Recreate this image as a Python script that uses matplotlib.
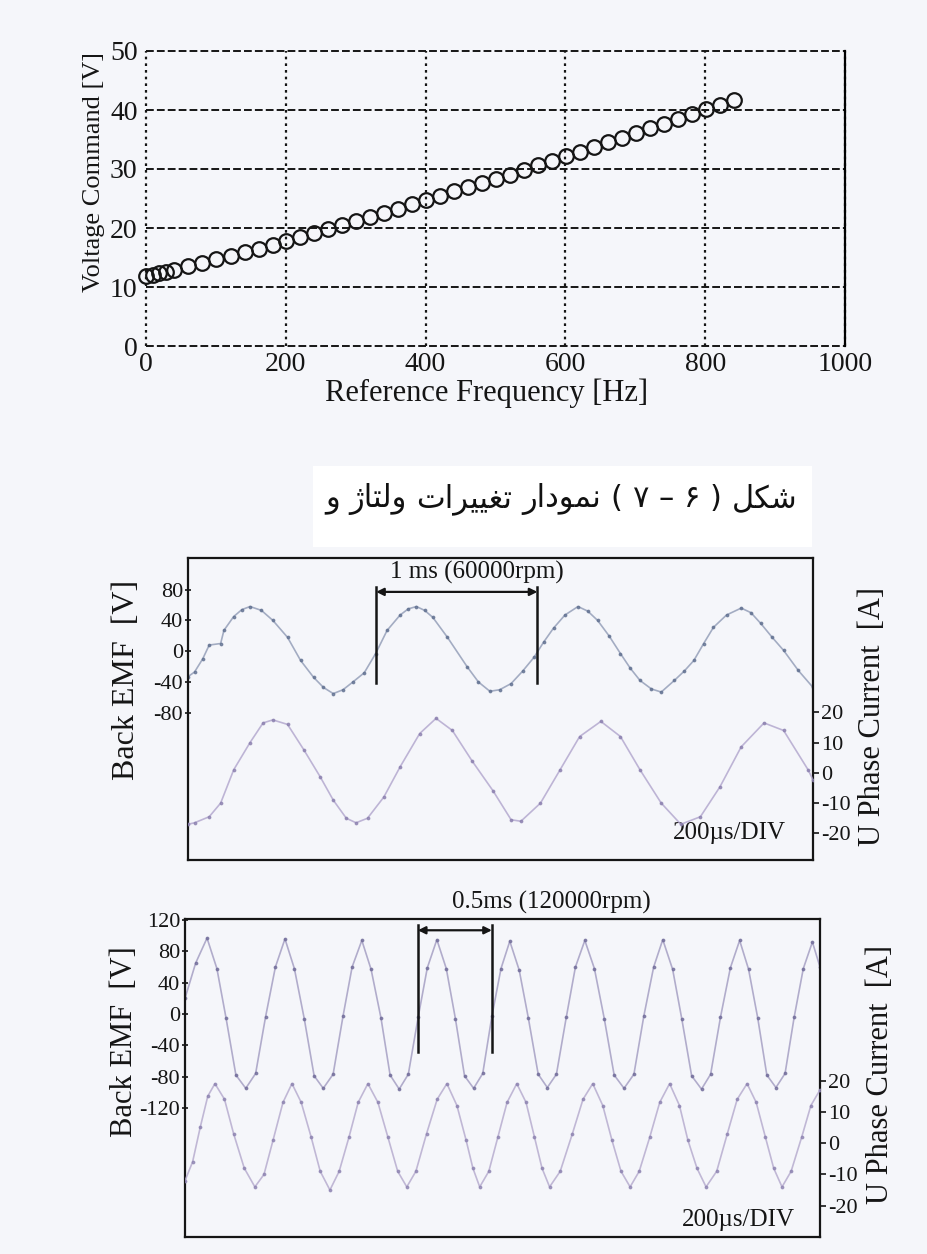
import numpy as np
import matplotlib
matplotlib.use("Agg")
import matplotlib.pyplot as plt
from matplotlib.patches import Rectangle

W, H = 927, 1254

# ---- top chart: voltage command vs reference frequency ----
freq_hz = [0, 10, 19, 29, 40, 60, 80, 100, 121, 141, 161, 181, 201, 221, 241,
           261, 281, 301, 321, 341, 361, 381, 401, 421, 441, 461, 481, 501, 521,
           541, 561, 581, 601, 621, 641, 661, 681, 701, 721, 741, 761, 781, 801,
           821, 841]
volt_cmd = [11.8, 12.1, 12.4, 12.6, 12.9, 13.5, 14.1, 14.7, 15.3, 15.9, 16.5,
            17.1, 17.8, 18.4, 19.1, 19.8, 20.5, 21.2, 21.9, 22.6, 23.3, 24.0,
            24.8, 25.5, 26.2, 26.9, 27.6, 28.3, 29.0, 29.8, 30.6, 31.4, 32.2,
            32.9, 33.7, 34.5, 35.3, 36.1, 36.9, 37.7, 38.5, 39.3, 40.1, 40.9, 41.7]
x_ticks = [0, 200, 400, 600, 800, 1000]
y_ticks = [0, 10, 20, 30, 40, 50]

# ---- middle scope, 60000 rpm (time in ms) ----
mid_t_emf = [0.00, 0.04, 0.09, 0.13, 0.20, 0.22, 0.28, 0.33, 0.38, 0.45, 0.52,
             0.61, 0.69, 0.77, 0.83, 0.89, 0.95, 1.01, 1.08, 1.15, 1.22, 1.30,
             1.35, 1.40, 1.45, 1.50, 1.59, 1.71, 1.78, 1.85, 1.91, 1.98, 2.05,
             2.12, 2.18, 2.24, 2.31, 2.39, 2.45, 2.51, 2.58, 2.65, 2.71, 2.77,
             2.84, 2.90, 2.98, 3.04, 3.10, 3.16, 3.22, 3.30, 3.39, 3.45, 3.51,
             3.58, 3.65, 3.74, 3.83]
mid_emf = [-33, -27, -10, 8, 10, 27, 45, 54, 58, 53, 40, 18, -12, -34, -47, -55,
           -50, -40, -28, -3, 27, 47, 55, 58, 53, 44, 18, -20, -40, -52, -50, -42,
           -26, -8, 12, 30, 47, 58, 52, 40, 20, -3, -22, -38, -49, -53, -38, -26,
           -12, 10, 31, 47, 56, 50, 36, 18, 1, -25, -47]
mid_t_cur = [0.00, 0.04, 0.13, 0.20, 0.28, 0.38, 0.46, 0.52, 0.61, 0.71, 0.81,
             0.89, 0.97, 1.03, 1.10, 1.20, 1.30, 1.42, 1.52, 1.62, 1.74, 1.87,
             1.98, 2.04, 2.16, 2.28, 2.40, 2.53, 2.65, 2.77, 2.90, 3.02, 3.14,
             3.26, 3.39, 3.53, 3.65, 3.80, 3.83]
mid_cur = [-17, -16.5, -14.5, -10, 1, 10, 16.5, 17.5, 16, 7.6, -1.3, -9, -15,
           -16.5, -15, -8, 2, 13, 18, 14, 4, -6, -15.5, -16, -10, 1, 12, 17, 12,
           1, -10, -17, -14.5, -4.6, 8.6, 16.5, 14, 1, -2.3]
mid_mark_t = [1.153, 2.141]

# ---- bottom scope, 120000 rpm (time in ms) ----
bot_t_emf = [0.00, 0.07, 0.145, 0.21, 0.27, 0.335, 0.40, 0.465, 0.53, 0.595,
             0.658, 0.72, 0.785, 0.85, 0.91, 0.975, 1.04, 1.10, 1.164, 1.225,
             1.29, 1.35, 1.41, 1.47, 1.535, 1.595, 1.658, 1.72, 1.78, 1.84, 1.90,
             1.96, 2.02, 2.08, 2.138, 2.20, 2.26, 2.325, 2.385, 2.445, 2.51, 2.57,
             2.632, 2.695, 2.76, 2.825, 2.89, 2.955, 3.02, 3.085, 3.145, 3.21,
             3.27, 3.335, 3.40, 3.46, 3.525, 3.59, 3.651, 3.71, 3.77, 3.83, 3.89,
             3.95, 4.01, 4.07, 4.13, 4.18]
bot_emf = [20, 65, 97, 58, -5, -78, -95, -76, -4, 60, 96, 58, -6, -79, -95, -77,
           -3, 60, 94, 57, -5, -78, -96, -77, -4, 59, 95, 58, -6, -79, -95, -76,
           -3, 58, 93, 56, -5, -77, -94, -77, -4, 60, 94, 58, -6, -78, -95, -77,
           -3, 60, 95, 57, -6, -79, -96, -77, -4, 59, 94, 57, -5, -78, -94, -76,
           -4, 58, 92, 60]
bot_t_cur = [0.00, 0.05, 0.10, 0.15, 0.197, 0.26, 0.32, 0.39, 0.46, 0.52, 0.58,
             0.645, 0.704, 0.765, 0.83, 0.89, 0.954, 1.015, 1.08, 1.14, 1.204,
             1.27, 1.335, 1.40, 1.46, 1.52, 1.59, 1.66, 1.724, 1.79, 1.85, 1.895,
             1.94, 2.00, 2.06, 2.12, 2.184, 2.245, 2.30, 2.35, 2.40, 2.47, 2.55,
             2.62, 2.684, 2.75, 2.81, 2.87, 2.93, 2.99, 3.06, 3.125, 3.19, 3.255,
             3.31, 3.37, 3.43, 3.50, 3.57, 3.635, 3.70, 3.76, 3.82, 3.875, 3.93,
             3.99, 4.06, 4.12, 4.18]
bot_cur = [-12, -6, 5, 15, 19, 14, 3, -8, -14, -10, 1, 13, 19, 13, 2, -9, -15,
           -9, 2, 13, 19, 13, 2, -9, -14, -9, 3, 14, 19, 12, 1, -8, -14, -9, 2,
           13, 19, 13, 2, -8, -14, -9, 3, 14, 19, 12, 1, -9, -14, -9, 2, 13, 19,
           12, 1, -8, -14, -9, 3, 14, 19, 13, 2, -8, -14, -9, 2, 12, 17]
bot_mark_t = [1.533, 2.02]

caption = 'شکل ( ۶ – ۷ ) نمودار تغییرات ولتاژ و'

# presentation forms: (isolated, final, initial, medial)
FORMS = {
    'ش': ('\uFEB5', '\uFEB6', '\uFEB7', '\uFEB8'),
    'ک': ('\uFB8E', '\uFB8F', '\uFB90', '\uFB91'),
    'ل': ('\uFEDD', '\uFEDE', '\uFEDF', '\uFEE0'),
    'ن': ('\uFEE5', '\uFEE6', '\uFEE7', '\uFEE8'),
    'م': ('\uFEE1', '\uFEE2', '\uFEE3', '\uFEE4'),
    'ت': ('\uFE95', '\uFE96', '\uFE97', '\uFE98'),
    'غ': ('\uFECD', '\uFECE', '\uFECF', '\uFED0'),
    'ی': ('\uFBFC', '\uFBFD', '\uFBFE', '\uFBFF'),
    'و': ('\uFEED', '\uFEEE'),
    'د': ('\uFEA9', '\uFEAA'),
    'ا': ('\uFE8D', '\uFE8E'),
    'ر': ('\uFEAD', '\uFEAE'),
    'ژ': ('\uFB8A', '\uFB8B'),
}
MIRROR = {'(': ')', ')': '('}


def shape_word(w):
    # contextual forms, still in logical order
    out = []
    for i, ch in enumerate(w):
        if ch not in FORMS:
            out.append(MIRROR.get(ch, ch))
            continue
        prev = w[i - 1] if i > 0 else None
        nxt = w[i + 1] if i + 1 < len(w) else None
        j_prev = prev in FORMS and len(FORMS[prev]) == 4
        j_next = nxt in FORMS and len(FORMS[ch]) == 4
        f = FORMS[ch]
        if j_prev and j_next:
            out.append(f[3])
        elif j_prev:
            out.append(f[1])
        elif j_next:
            out.append(f[2])
        else:
            out.append(f[0])
    return ''.join(out)


def renderer_reverses_rtl():
    # draw an arabic glyph followed by underscores and see which side it lands on
    f = plt.figure(figsize=(3, 1), dpi=100)
    f.text(0.05, 0.5, '\uFEB5____', family=['DejaVu Sans'], fontsize=30,
           va='center')
    f.canvas.draw()
    ink = 255.0 - np.asarray(f.canvas.buffer_rgba())[:, :, 0].astype(float)
    plt.close(f)
    cols = np.arange(ink.shape[1])
    top = ink[: ink.shape[0] * 2 // 5].sum(axis=0)
    allc = ink.sum(axis=0)
    if top.sum() == 0 or allc.sum() == 0:
        return False
    return (top * cols).sum() / top.sum() > (allc * cols).sum() / allc.sum()


def rect(l, t, r, b):
    return [l / W, 1 - b / H, (r - l) / W, (b - t) / H]


rev = renderer_reverses_rtl()

plt.rcParams['font.family'] = 'Liberation Serif'
BG = '#f5f6fa'
INK = '#151515'

fig = plt.figure(figsize=(W / 100, H / 100), dpi=100, facecolor=BG)

# ---------- top chart ----------
ax = fig.add_axes(rect(146, 51, 845, 346))
ax.set_facecolor(BG)
ax.plot(freq_hz, volt_cmd, ls='none', marker='o', ms=10.5, mfc='none',
        mec=INK, mew=1.6, clip_on=False, zorder=3)
ax.set_xlim(0, 1000)
ax.set_ylim(0, 50)
ax.set_xticks(x_ticks)
ax.set_yticks(y_ticks)
ax.tick_params(length=0, labelsize=20, colors=INK)
ax.tick_params(axis='x', pad=4)
ax.tick_params(axis='y', pad=6)
ax.grid(axis='y', ls=(0, (4, 1.6)), lw=1.4, color=INK)
ax.grid(axis='x', ls=(0, (1.2, 1.8)), lw=1.6, color=INK)
ax.set_axisbelow(True)
for g in ax.get_xgridlines() + ax.get_ygridlines():
    g.set_clip_on(False)
for s in ['top', 'left', 'bottom']:
    ax.spines[s].set_visible(False)
ax.spines['right'].set_linewidth(1.6)
fig.text(94 / W, 1 - 172 / H, 'Voltage Command [V]', rotation=90,
         ha='center', va='center', fontsize=19, color=INK)
fig.text(487 / W, 1 - 393 / H, 'Reference Frequency [Hz]', ha='center',
         va='center', fontsize=22, color=INK)

# ---------- Persian caption (right-to-left, placed word by word) ----------
fig.add_artist(Rectangle((313 / W, 1 - 547 / H), (812 - 313) / W, (547 - 466) / H,
                         transform=fig.transFigure, fc='white', ec='none'))
cap_fs = 22
words = caption.split(' ')[::-1]
tokens = [shape_word(w) if rev else shape_word(w)[::-1] for w in words]
cap_objs = [fig.text(0, 1 - 507 / H, tok, family=['DejaVu Sans'], fontsize=cap_fs,
                     ha='left', va='baseline', color='#111111') for tok in tokens]
rend = fig.canvas.get_renderer()
widths = [o.get_window_extent(renderer=rend).width for o in cap_objs]
gap = 0.32 * cap_fs * 100 / 72
x = 561 - (sum(widths) + gap * (len(widths) - 1)) / 2
for o, wd in zip(cap_objs, widths):
    o.set_x(x / W)
    x += wd + gap


def scope(box, ylim_l, ylim_r, yt_l, yt_r, xmax):
    a = fig.add_axes(rect(*box))
    a.set_facecolor('none')
    a.set_xlim(0, xmax)
    a.set_ylim(*ylim_l)
    a.set_xticks([])
    a.set_yticks(yt_l)
    a.set_yticklabels([str(v) for v in yt_l])
    a.tick_params(axis='y', direction='inout', length=5, width=1.2, pad=1,
                  labelsize=16, colors=INK)
    for s in a.spines.values():
        s.set_linewidth(1.6)
        s.set_color(INK)
    b = a.twinx()
    b.set_ylim(*ylim_r)
    b.set_yticks(yt_r)
    b.set_yticklabels([str(v) for v in yt_r])
    b.tick_params(axis='y', direction='out', length=4, width=1.2, pad=2,
                  labelsize=16, colors=INK)
    for s in b.spines.values():
        s.set_visible(False)
    return a, b


def trace(a, t, v, line_c, dot_c):
    a.plot(t, v, color=line_c, lw=1.2, alpha=0.8)
    a.plot(t, v, ls='none', marker='.', ms=3.5, color=dot_c, alpha=0.75)


def span_mark(a, ts, y_top, y_arrow, y_bot, label, t_text, y_text, fs):
    for t in ts:
        a.plot([t, t], [y_top, y_bot], color=INK, lw=1.8)
    a.annotate('', xy=(ts[1], y_arrow), xytext=(ts[0], y_arrow),
               arrowprops=dict(arrowstyle='<|-|>', color=INK, lw=1.6,
                               mutation_scale=11, shrinkA=0, shrinkB=0))
    a.text(t_text, y_text, label, ha='center', va='center', fontsize=fs,
           color=INK, clip_on=False)


# ---------- middle scope ----------
m1, m2 = scope((188, 558, 813, 860), (-271, 121), (-28.8, 71),
               [80, 40, 0, -40, -80], [20, 10, 0, -10, -20], 3.83)
trace(m1, mid_t_emf, mid_emf, '#8f9ab5', '#5f6f8f')
trace(m2, mid_t_cur, mid_cur, '#b0a4cc', '#8a7fae')
span_mark(m1, mid_mark_t, 83, 77, -41.5, '1 ms (60000rpm)', 1.77, 102, 18)
m1.text(0.867, 0.09, '200µs/DIV', transform=m1.transAxes, ha='center',
        va='center', fontsize=18, color=INK)
fig.text(127 / W, 1 - 680 / H, 'Back EMF  [V]', rotation=90, ha='center',
         va='center', fontsize=23, color=INK)
fig.text(873 / W, 1 - 716 / H, 'U Phase Current  [A]', rotation=90,
         ha='center', va='center', fontsize=22, color=INK)

# ---------- bottom scope ----------
b1, b2 = scope((185, 919, 820, 1237), (-285, 121.4), (-30, 71.6),
               [120, 80, 40, 0, -40, -80, -120], [20, 10, 0, -10, -20], 4.18)
trace(b1, bot_t_emf, bot_emf, '#a09ac0', '#6f6a98')
trace(b2, bot_t_cur, bot_cur, '#b3a8cc', '#8c82b0')
span_mark(b1, bot_mark_t, 114, 107, -48.6, '0.5ms (120000rpm)', 2.41, 142, 18)
b1.text(0.871, 0.053, '200µs/DIV', transform=b1.transAxes, ha='center',
        va='center', fontsize=18, color=INK)
fig.text(125 / W, 1 - 1042 / H, 'Back EMF  [V]', rotation=90, ha='center',
         va='center', fontsize=22, color=INK)
fig.text(880 / W, 1 - 1075 / H, 'U Phase Current  [A]', rotation=90,
         ha='center', va='center', fontsize=22, color=INK)

fig.savefig('out.png', dpi=100, facecolor=BG)
